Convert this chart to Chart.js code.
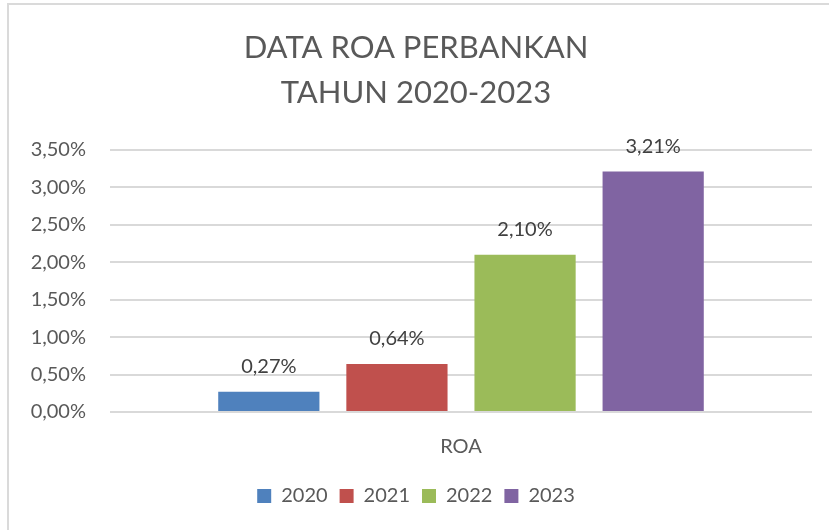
<!DOCTYPE html>
<html>
<head>
<meta charset="utf-8">
<script src="https://cdn.jsdelivr.net/npm/chart.js@4"></script>
<style>
  body { margin: 0; background: #fff; }
  #wrap { position: relative; width: 829px; height: 530px; overflow: hidden; }
  #frame { position: absolute; left: 7px; top: 3px; width: 900px; height: 600px; border: 2px solid #dadada; pointer-events: none; }
  canvas { position: absolute; left: 0; top: 0; }
</style>
</head>
<body>
<div id="wrap">
  <canvas id="chartRoa" width="829" height="530"></canvas>
  <div id="frame"></div>
</div>
<script>
const categories = ['ROA'];
const years = ['2020', '2021', '2022', '2023'];
const roaValues = [0.27, 0.64, 2.10, 3.21];
const barColors = ['#4F81BD', '#C0504D', '#9BBB59', '#8064A2'];

const fmt = v => v.toFixed(2).replace('.', ',') + '%';
const fontName = 'Lato, "Open Sans", sans-serif';

// value labels above each bar
const barLabels = {
  id: 'barLabels',
  afterDatasetsDraw(chart) {
    const ctx = chart.ctx;
    ctx.save();
    ctx.font = '20px ' + fontName;
    ctx.fillStyle = '#404040';
    ctx.textAlign = 'center';
    ctx.textBaseline = 'alphabetic';
    chart.data.datasets.forEach((ds, i) => {
      chart.getDatasetMeta(i).data.forEach((bar, j) => {
        ctx.fillText(fmt(ds.data[j]), bar.x, bar.y - 19);
      });
    });
    ctx.restore();
  }
};

const chartRoa = document.getElementById('chartRoa');

new Chart(chartRoa, {
  type: 'bar',
  data: {
    labels: categories,
    datasets: years.map((y, i) => ({
      label: y,
      data: [roaValues[i]],
      backgroundColor: barColors[i],
      borderWidth: 0,
      categoryPercentage: 0.73,
      barPercentage: 0.79
    }))
  },
  options: {
    responsive: false,
    animation: false,
    layout: { padding: { left: 20, right: 17, top: 0, bottom: 14 } },
    plugins: {
      title: {
        display: true,
        text: ['DATA ROA PERBANKAN', 'TAHUN 2020-2023'],
        color: '#595959',
        font: { family: fontName, size: 31, weight: 'normal', lineHeight: 1.45 },
        padding: { top: 26, bottom: 34 }
      },
      legend: {
        position: 'bottom',
        labels: {
          color: '#595959',
          boxWidth: 14,
          boxHeight: 14,
          padding: 12,
          font: { family: fontName, size: 20 }
        }
      },
      tooltip: { enabled: false }
    },
    scales: {
      x: {
        grid: { display: false },
        border: { display: false },
        ticks: { color: '#595959', padding: 15, font: { family: fontName, size: 20 } }
      },
      y: {
        min: 0,
        max: 3.5,
        afterFit(scale) { scale.width = 90; },
        grid: { color: '#d9d9d9', lineWidth: 2, drawTicks: false },
        border: { display: false },
        ticks: {
          stepSize: 0.5,
          padding: 24,
          color: '#595959',
          font: { family: fontName, size: 20 },
          callback: v => fmt(v)
        }
      }
    }
  },
  plugins: [barLabels]
});
</script>
</body>
</html>
